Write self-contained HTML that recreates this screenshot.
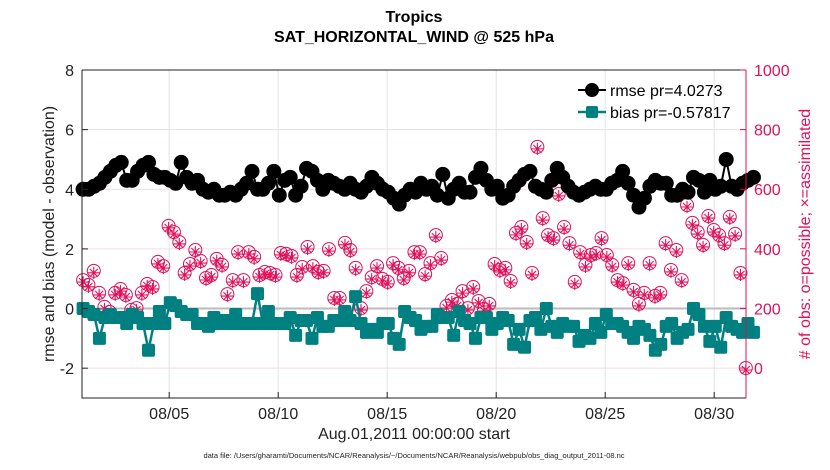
<!DOCTYPE html>
<html><head><meta charset="utf-8"><style>
body{margin:0;background:#fff;}
svg{display:block;font-family:"Liberation Sans",sans-serif;}
</style></head><body>
<svg id="c" width="830" height="470"></svg>
<script>
const rmse=[4.0,4.0,4.1,4.2,4.4,4.6,4.8,4.9,4.3,4.3,4.6,4.8,4.9,4.5,4.4,4.4,4.3,4.2,4.9,4.4,4.2,4.3,4.0,3.9,4.0,3.8,3.8,3.9,3.8,4.0,4.2,4.6,4.0,4.0,4.2,4.6,3.8,4.3,4.4,3.8,4.1,4.7,4.6,4.3,4.0,4.3,4.2,4.1,4.0,4.2,4.0,3.9,4.1,4.4,4.2,4.0,3.9,3.7,3.5,3.8,4.0,3.9,4.2,4.0,4.1,3.8,4.5,3.7,4.0,4.2,3.9,3.9,4.4,4.7,4.3,4.0,4.1,3.7,3.8,4.1,4.3,4.5,4.6,4.1,4.0,3.9,4.3,4.7,4.4,4.1,3.9,3.8,3.9,4.0,4.1,4.0,4.0,4.2,4.3,4.6,4.2,3.8,3.4,3.7,4.1,4.3,4.2,4.2,3.8,3.8,4.0,3.9,4.4,4.3,3.9,4.3,4.0,4.1,5.0,4.1,4.0,4.2,4.3,4.4];
const bias=[0,-0.1,-0.2,-1.0,-0.3,-0.2,-0.3,-0.3,-0.5,-0.2,-0.3,-0.5,-1.4,-0.5,-0.1,-0.5,0.2,0.1,-0.1,-0.2,-0.2,-0.5,-0.5,-0.6,-0.3,-0.5,-0.4,-0.5,-0.2,-0.5,-0.5,-0.5,0.5,-0.5,-0.1,-0.5,-0.5,-0.5,-0.3,-0.9,-0.4,-0.4,-1.0,-0.3,-0.6,-0.6,-0.4,-0.4,-0.1,-0.4,0.4,-0.5,-0.8,-0.7,-0.8,-0.5,-0.5,-1.0,-1.2,-0.1,-0.3,-0.4,-0.7,-0.6,-0.6,-0.2,-0.3,-0.3,-0.9,-0.1,-0.4,-0.5,-1.0,-0.3,-0.3,-0.7,-0.5,-0.3,-0.4,-1.2,-0.7,-1.3,-0.4,-0.3,-0.7,0.0,-0.6,-0.8,-0.5,-0.6,-0.6,-1.1,-0.9,-1.0,-0.5,-0.8,-0.2,-0.5,-0.5,-0.6,-0.8,-1.0,-0.6,-0.7,-0.9,-1.4,-1.2,-0.6,-0.5,-1.0,-0.8,-0.7,0.0,-0.2,-0.6,-1.1,-0.6,-1.3,-0.3,-0.6,-0.7,-0.8,-0.5,-0.8];
const nposs=[295,279,326,252,205,188,252,265,245,195,201,252,282,272,356,342,477,456,423,319,349,396,359,302,312,366,346,248,295,389,295,
389,373,312,322,319,312,386,383,376,312,339,406,342,322,326,399,235,235,420,396,336,201,258,305,342,299,289,352,336,302,326,389,
389,315,352,446,369,208,228,215,258,201,272,225,198,215,349,329,336,292,453,473,423,319,742,503,446,436,584,473,419,289,
389,346,379,386,436,379,346,295,285,352,262,215,252,352,242,252,419,329,396,295,547,487,456,413,510,463,446,419,507,450,319,0];
const xTicks=[5,10,15,20,25,30];
const xTickLabels=["08/05","08/10","08/15","08/20","08/25","08/30"];
const yTicks=[-2,0,2,4,6,8];
const y2Ticks=[0,200,400,600,800,1000];

const L=82,R=746,T=70,B=398;
const X=d=>L+(d-1)*21.8;
const Y=v=>T+(8-v)/11*(B-T);
const Y2=v=>368-v*0.298;
const svg=document.getElementById('c');
const NS='http://www.w3.org/2000/svg';
function mk(t,a,p){const e=document.createElementNS(NS,t);for(const k in a)e.setAttribute(k,a[k]);(p||svg).appendChild(e);return e;}
function tx(s,a,p){const e=mk('text',a,p);e.textContent=s;return e;}

const grid=mk('g',{});


xTicks.forEach(d=>mk('line',{x1:X(d),x2:X(d),y1:T,y2:B,stroke:'#e3e3e3'},grid));
yTicks.forEach(v=>mk('line',{x1:L,x2:R,y1:Y(v),y2:Y(v),stroke:'#f3dce6'},grid));
mk('line',{x1:L,x2:R,y1:Y(0),y2:Y(0),stroke:'#bbb','stroke-width':2},grid);

const t=i=>1+i*0.25+0.05;
const to=i=>1.05+i*(30.4/(nposs.length-1));
const obs=mk('g',{});


nposs.forEach((v,i)=>{const cx=X(to(i)),cy=Y2(v);
 const c=mk('circle',{cx:cx,cy:cy,r:6.5,fill:'none',stroke:'#e0105a','stroke-width':1},obs);
 
 
 const a=cy+2;
 const s=mk('path',{d:`M${cx-6} ${a}h12M${cx} ${a-6}v12M${cx-4} ${a-4}l8 8M${cx-4} ${a+4}l8 -8`,stroke:'#e0105a','stroke-width':1.1},obs);
 
 
});
const rg=mk('g',{});


mk('polyline',{points:rmse.map((v,i)=>X(t(i))+','+Y(v)).join(' '),fill:'none',stroke:'#000','stroke-width':2},rg);
rmse.forEach((v,i)=>{const c=mk('circle',{cx:X(t(i)),cy:Y(v),r:7.5,fill:'#000'},rg);
 
 });
const bg=mk('g',{});


mk('polyline',{points:bias.map((v,i)=>X(t(i))+','+Y(v)).join(' '),fill:'none',stroke:'#008080','stroke-width':2.5},bg);
bias.forEach((v,i)=>{const r=mk('rect',{x:X(t(i))-6.5,y:Y(v)-6.5,width:13,height:13,rx:2,fill:'#008080'},bg);
 
 });

const ax=mk('g',{});


mk('path',{d:`M${L} ${T}H${R}M${L} ${T}V${B}H${R}`,stroke:'#222',fill:'none'},ax);
mk('line',{x1:R,x2:R,y1:T,y2:B,stroke:'#e0105a'},ax);
yTicks.forEach(v=>{mk('line',{x1:L,x2:L+6,y1:Y(v),y2:Y(v),stroke:'#222'},ax);
 tx(String(v),{x:L-8,y:Y(v)+6,'text-anchor':'end','font-size':16,fill:'#222'},ax);});
y2Ticks.forEach(v=>{mk('line',{x1:R-6,x2:R,y1:Y2(v),y2:Y2(v),stroke:'#e0105a'},ax);
 tx(String(v),{x:R+8,y:Y2(v)+6,'font-size':16,fill:'#e0105a'},ax);});
xTicks.forEach((d,i)=>{mk('line',{x1:X(d),x2:X(d),y1:B,y2:B-6,stroke:'#222'},ax);
 tx(xTickLabels[i],{x:X(d),y:B+21,'text-anchor':'middle','font-size':16,fill:'#222'},ax);});

const tl=tx('Tropics',{x:414,y:22,'text-anchor':'middle','font-size':16,'font-weight':'bold'});

const st=tx('SAT_HORIZONTAL_WIND @ 525 hPa',{x:414,y:42,'text-anchor':'middle','font-size':16,'font-weight':'bold'});

const xl=tx('Aug.01,2011 00:00:00 start',{x:414,y:439,'text-anchor':'middle','font-size':16,fill:'#222'});

const yl=tx('rmse and bias (model - observation)',{x:0,y:0,'text-anchor':'middle','font-size':16,fill:'#222',transform:'translate(54 234) rotate(-90)'});

const y2l=tx('# of obs: o=possible; \u00d7=assimilated',{x:0,y:0,'text-anchor':'middle','font-size':16,fill:'#e0105a',transform:'translate(810 234) rotate(-90)'});

const fn=tx('data file: /Users/gharamti/Documents/NCAR/Reanalysis/~/Documents/NCAR/Reanalysis/webpub/obs_diag_output_2011-08.nc',{x:414,y:458,'text-anchor':'middle','font-size':7.5,fill:'#222'});


const lg=mk('g',{});


mk('line',{x1:578,x2:606,y1:90,y2:90,stroke:'#000','stroke-width':2},lg);
mk('circle',{cx:592,cy:90,r:7,fill:'#000'},lg);
tx('rmse pr=4.0273',{x:610,y:96,'font-size':16},lg);
mk('line',{x1:578,x2:606,y1:112,y2:112,stroke:'#008080','stroke-width':2.5},lg);
mk('rect',{x:586,y:106,width:12,height:12,rx:2,fill:'#008080'},lg);
tx('bias pr=-0.57817',{x:610,y:118,'font-size':16},lg);
</script>
</body></html>
